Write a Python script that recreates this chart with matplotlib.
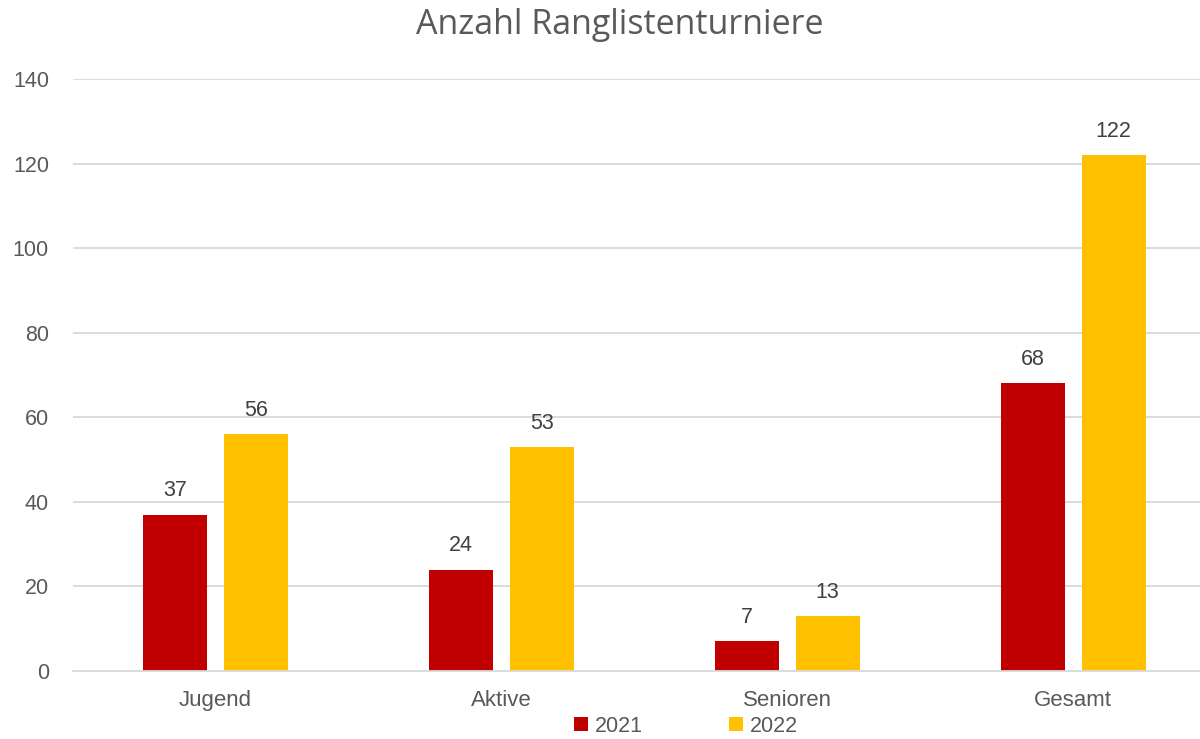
import matplotlib
matplotlib.use("Agg")
import matplotlib.pyplot as plt
import numpy as np

categories = ["Jugend", "Aktive", "Senioren", "Gesamt"]
series_names = ["2021", "2022"]
values_2021 = [37, 24, 7, 68]
values_2022 = [56, 53, 13, 122]
yticks = [0, 20, 40, 60, 80, 100, 120, 140]

colors = ["#C00000", "#FFC000"]
text_color = "#595959"

plt.rcParams['font.family'] = ['Liberation Sans', 'DejaVu Sans']

fig = plt.figure(figsize=(12, 7.39), dpi=100)
W, H = 1200, 739
left_px, right_px = 72.5, 1216
bottom_px, top_px = 671, 79
ax = fig.add_axes([left_px / W, (H - bottom_px) / H,
                   (right_px - left_px) / W, (bottom_px - top_px) / H])

x = np.arange(len(categories))
width = 0.224
off = 0.1416
b1 = ax.bar(x - off, values_2021, width, color=colors[0], label=series_names[0])
b2 = ax.bar(x + off, values_2022, width, color=colors[1], label=series_names[1])

for bars, vals in ((b1, values_2021), (b2, values_2022)):
    for rect, v in zip(bars, vals):
        ax.annotate(str(v), (rect.get_x() + rect.get_width() / 2, v),
                    xytext=(0, 9.5), textcoords="offset points",
                    ha="center", va="bottom", fontsize=15.5, color="#404040")

ax.set_xlim(-0.5, 3.5)
ax.set_ylim(0, 140)
ax.set_yticks(yticks)
ax.set_yticklabels([str(t) for t in yticks])
ax.set_xticks(x)
ax.set_xticklabels(categories)
ax.tick_params(axis="both", length=0, labelcolor=text_color)
ax.tick_params(axis="y", pad=17, labelsize=15.5)
ax.tick_params(axis="x", pad=14, labelsize=16)
ax.grid(axis="y", color="#D9D9D9", linewidth=1.3)
ax.set_axisbelow(True)
for s in ["left", "right", "top"]:
    ax.spines[s].set_visible(False)
ax.spines["bottom"].set_color("#D9D9D9")
ax.spines["bottom"].set_linewidth(1.3)

fig.text(620 / W, 1 - 25 / H, "Anzahl Ranglistenturniere", ha="center", va="center",
         fontsize=24.5, color=text_color, family=["Open Sans", "DejaVu Sans"])

fig.legend(handles=[b1, b2], labels=series_names, loc="center",
           bbox_to_anchor=(686 / W, 1 - 726 / H), ncol=2, frameon=False,
           fontsize=15.5, labelcolor=text_color, handlelength=0.65, handleheight=0.65,
           handletextpad=0.3, columnspacing=4.0)

fig.savefig("out.png", dpi=100)
